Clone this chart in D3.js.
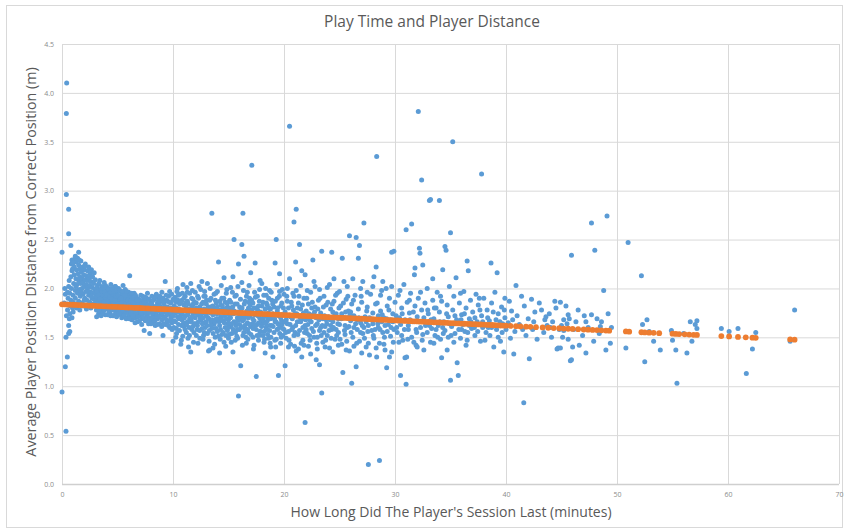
<!DOCTYPE html>
<html>
<head>
<meta charset="utf-8">
<script src="https://cdn.jsdelivr.net/npm/d3@7"></script>
<style>
  body { margin: 0; background: #fff; }
  svg { display: block; font-family: "Open Sans", "Noto Sans", sans-serif; }
</style>
</head>
<body>
<div id="chart"></div>
<script>
const title = 'Play Time and Player Distance';
const xTitle = "How Long Did The Player's Session Last (minutes)";
const yTitle = 'Average Player Position Distance from Correct Position (m)';
const xTicks = [0, 10, 20, 30, 40, 50, 60, 70];
const yTicks = [0, 0.5, 1, 1.5, 2, 2.5, 3, 3.5, 4, 4.5];

// session length (min), avg distance (m) — first three minutes
const blueSpike = [
  [0.0,2.37],[0.0,0.94],[0.36,0.54],[0.3,1.20],[0.48,1.30],[0.36,1.50],[0.6,1.54],[0.7,1.56],[0.42,4.10],[0.39,3.79],
  [0.39,2.96],[0.6,2.81],[0.6,2.56],[0.8,2.44],[0.66,1.69],[0.25,2.00],[0.3,1.94],[0.2,1.85],[0.9,1.70],[0.6,1.62],
  [0.4,1.72],[0.5,1.78],[0.45,1.84],[0.55,1.90],[0.5,1.96],[0.6,2.02],[0.65,2.08],[0.7,1.74],[0.75,1.82],[0.8,1.88],
  [0.7,1.95],[0.85,2.00],[0.8,2.12],[0.9,2.18],[0.85,2.25],[0.9,2.29],[0.95,1.80],[1.0,1.86],[1.0,1.93],[1.05,2.05],
  [1.1,2.14],[1.1,2.22],[1.15,2.30],[1.2,1.98],[1.2,1.90],[1.25,2.10],[1.3,2.19],[1.3,2.27],[1.35,2.04],[1.4,1.95],
  [1.4,2.31],[1.45,2.15],[1.5,2.24],[1.5,2.08],[1.55,1.99],[1.6,2.20],[1.6,2.12],[1.65,1.92],[1.7,2.05],[1.7,2.28],
  [1.75,2.17],[1.8,2.00],[1.8,2.10],[1.85,2.22],[1.9,1.94],[1.9,2.06],[1.95,2.14],[2.0,2.02],[2.0,2.19],[2.05,1.90],
  [2.1,2.09],[2.1,2.25],[2.15,1.97],[2.2,2.13],[2.2,2.04],[2.25,1.88],[2.3,2.18],[2.3,2.00],[2.35,2.08],[2.4,1.93],
  [2.4,2.22],[2.45,2.11],[2.5,2.03],[2.5,1.86],[2.55,2.15],[2.6,1.96],[2.6,2.07],[2.65,2.19],[2.7,1.90],[2.7,2.01],
  [2.75,2.12],[2.8,1.84],[2.8,1.95],[2.85,2.05],[2.9,2.16],[2.9,1.89],[2.95,1.99],[3.0,2.09],[3.0,1.82],[1.0,1.76],
  [1.3,1.80],[1.6,1.78],[1.9,1.82],[2.2,1.79],[2.6,1.80],[1.2,1.84],[1.5,1.87],[1.8,1.85],[2.4,1.83],[2.0,1.88],
  [1.0,2.26],[1.2,2.33],[1.5,2.37],[0.95,2.20],[1.25,2.02],[1.55,2.29],[1.75,1.96],[2.05,2.23],[2.35,1.97],[2.65,1.92]
];

// 3 to 10 minutes
const blueEarly = [
  [3.1,1.95],[3.1,1.78],[3.2,2.03],[3.2,1.87],[3.3,1.74],[3.3,1.99],[3.4,1.91],[3.4,2.08],[3.5,1.83],[3.5,1.96],
  [3.6,1.76],[3.6,2.02],[3.7,1.89],[3.7,1.80],[3.8,1.94],[3.8,2.06],[3.9,1.85],[3.9,1.73],[4.0,1.98],[4.0,1.88],
  [4.1,1.79],[4.1,2.01],[4.2,1.92],[4.2,1.84],[4.3,1.75],[4.3,1.97],[4.4,2.04],[4.4,1.87],[4.5,1.81],[4.5,1.93],
  [4.6,1.72],[4.6,1.99],[4.7,1.86],[4.7,1.78],[4.8,2.02],[4.8,1.90],[4.9,1.83],[4.9,1.95],[5.0,1.76],[5.0,1.88],
  [5.1,2.00],[5.1,1.80],[5.2,1.92],[5.2,1.85],[5.3,1.73],[5.3,1.97],[5.4,1.89],[5.4,1.79],[5.5,2.03],[5.5,1.84],
  [5.6,1.94],[5.6,1.75],[5.7,1.87],[5.7,1.99],[5.8,1.81],[5.8,1.91],[5.9,1.70],[5.9,1.86],[6.0,1.96],[6.0,1.78],
  [3.15,1.90],[3.45,1.85],[3.75,1.98],[4.05,1.82],[4.35,1.90],[4.65,1.94],[4.95,1.79],[5.25,1.88],[5.55,1.91],[5.85,1.83],
  [3.35,1.81],[3.65,1.93],[3.95,1.90],[4.25,1.77],[4.55,1.86],[4.85,1.74],[5.15,1.84],[5.45,1.95],[5.75,1.77],[6.05,1.89],
  [4.8,2.02],[3.05,2.00],[3.55,1.88],[4.15,1.95],[4.75,1.82],[5.35,1.82],[5.95,1.92],
  [6.1,2.13],[6.1,1.72],[6.2,1.84],[6.2,1.93],[6.3,1.77],[6.3,1.68],[6.4,1.88],[6.4,1.81],[6.5,1.95],[6.5,1.74],
  [6.6,1.86],[6.6,1.70],[6.7,1.79],[6.7,1.91],[6.8,1.83],[6.8,1.66],[6.9,1.76],[6.9,1.89],[7.0,1.81],[7.0,1.72],
  [7.1,1.93],[7.1,1.85],[7.2,1.69],[7.2,1.78],[7.3,1.88],[7.3,1.74],[7.4,1.57],[7.4,1.82],[7.5,1.91],[7.5,1.67],
  [7.6,1.79],[7.6,1.86],[7.7,1.73],[7.7,1.95],[7.8,1.81],[7.8,1.64],[7.9,1.54],[7.9,1.76],[8.0,1.87],[8.0,1.70],
  [8.1,1.83],[8.1,1.92],[8.2,1.66],[8.2,1.77],[8.3,1.89],[8.3,1.72],[8.4,1.80],[8.4,1.62],[8.5,1.94],[8.5,1.75],
  [8.6,1.85],[8.6,1.69],[8.7,1.78],[8.7,1.90],[8.8,1.64],[8.8,1.82],[8.9,1.73],[8.9,1.87],[9.0,1.68],[9.0,1.96],
  [9.1,1.52],[9.1,1.79],[9.2,1.84],[9.2,1.71],[9.3,2.07],[9.3,1.63],[9.4,1.77],[9.4,1.88],[9.5,1.66],[9.5,1.81],
  [9.6,1.74],[9.6,1.92],[9.7,1.97],[9.7,1.60],[9.8,1.85],[9.8,1.70],[9.9,1.78],[9.9,1.65],[10.0,1.46],[10.0,1.89],
  [6.15,1.80],[6.45,1.76],[6.75,1.85],[7.05,1.78],[7.35,1.80],[7.65,1.71],[7.95,1.83],[8.25,1.80],[8.55,1.72],[8.85,1.77],
  [9.15,1.86],[9.45,1.73],[9.75,1.80],[6.35,1.90],[6.95,1.84],[7.55,1.75],[8.15,1.74],[8.75,1.84],[9.35,1.76],[9.95,1.72]
];

// more sessions of 3 to 10 minutes
const blueEarly2 = [
  [3.02,1.86],[3.08,1.92],[3.12,1.71],[3.18,1.97],[3.22,1.80],[3.28,1.93],[3.32,2.05],[3.38,1.77],[3.42,1.89],[3.48,1.99],
  [3.52,1.72],[3.58,1.84],[3.62,1.97],[3.68,1.75],[3.72,2.00],[3.78,1.86],[3.82,1.78],[3.88,1.96],[3.92,2.03],[3.98,1.80],
  [4.02,1.93],[4.08,1.73],[4.12,1.87],[4.18,1.99],[4.22,1.80],[4.28,1.91],[4.32,1.83],[4.38,1.72],[4.42,1.96],[4.48,1.89],
  [4.52,2.00],[4.58,1.78],[4.62,1.84],[4.68,1.97],[4.72,1.73],[4.78,1.88],[4.82,1.80],[4.88,1.92],[4.92,1.71],[4.98,1.98],
  [5.02,1.84],[5.08,1.93],[5.12,1.74],[5.18,1.81],[5.22,1.98],[5.28,1.77],[5.32,1.90],[5.38,1.70],[5.42,1.85],[5.48,1.78],
  [5.52,1.97],[5.58,1.82],[5.62,1.72],[5.68,1.93],[5.72,1.84],[5.78,1.69],[5.82,1.97],[5.88,1.79],[5.92,1.88],[5.98,1.74],
  [6.02,1.84],[6.08,1.69],[6.18,1.87],[6.22,1.75],[6.28,1.95],[6.38,1.72],[6.42,1.85],[6.52,1.80],[6.58,1.65],[6.62,1.93],
  [6.72,1.74],[6.78,1.88],[6.82,1.71],[6.88,1.80],[6.98,1.67],[7.02,1.88],[7.12,1.75],[7.18,1.63],[7.22,1.84],[7.28,1.92],
  [7.38,1.70],[7.42,1.86],[7.48,1.77],[7.58,1.68],[7.62,1.90],[7.72,1.83],[7.78,1.76],[7.82,1.89],[7.88,1.68],[7.98,1.79],
  [8.02,1.64],[8.08,1.85],[8.18,1.70],[8.22,1.88],[8.28,1.78],[8.38,1.67],[8.42,1.91],[8.48,1.82],[8.58,1.78],[8.62,1.63],
  [8.68,1.87],[8.78,1.71],[8.82,1.92],[8.92,1.80],[8.98,1.61],[9.02,1.75],[9.08,1.90],[9.18,1.64],[9.22,1.80],[9.28,1.70],
  [9.38,1.93],[9.42,1.68],[9.52,1.87],[9.58,1.62],[9.62,1.78],[9.68,1.86],[9.78,1.67],[9.82,1.75],[9.88,1.94],[9.92,1.58]
];

// 10 to 20 minutes
const blueMid = [
  [10.1,1.82],[10.1,1.67],[10.2,1.75],[10.2,1.91],[10.3,1.59],[10.3,1.86],[10.4,2.00],[10.4,1.71],[10.5,1.79],[10.5,1.63],
  [10.6,1.94],[10.6,1.84],[10.7,1.43],[10.7,1.73],[10.8,1.68],[10.8,1.88],[10.9,2.04],[10.9,1.77],[11.0,1.61],[11.0,1.83],
  [11.1,1.72],[11.1,1.92],[11.2,1.55],[11.2,1.80],[11.3,1.66],[11.3,1.87],[11.4,1.40],[11.4,1.76],[11.5,1.95],[11.5,1.69],
  [11.6,2.05],[11.6,1.35],[11.7,1.82],[11.7,1.58],[11.8,1.74],[11.8,1.89],[11.9,1.64],[11.9,1.79],[12.0,1.96],[12.0,1.70],
  [12.1,1.52],[12.1,1.85],[12.2,1.77],[12.2,1.62],[12.3,1.90],[12.3,1.73],[12.4,1.57],[12.4,1.81],[12.5,1.68],[12.5,1.99],
  [12.6,2.07],[12.6,1.75],[12.7,1.48],[12.7,1.86],[12.8,1.65],[12.8,1.79],[12.9,1.92],[12.9,1.60],[13.0,1.72],[13.0,1.84],
  [13.1,2.05],[13.1,1.54],[13.2,1.36],[13.2,1.76],[13.3,1.37],[13.3,1.88],[13.4,1.66],[13.4,1.81],[13.5,2.77],[13.5,1.59],
  [13.6,1.39],[13.6,1.73],[13.7,1.94],[13.7,1.63],[13.8,1.78],[13.8,1.50],[13.9,1.85],[13.9,1.69],[14.0,1.56],[14.0,1.97],
  [14.1,2.27],[14.1,1.75],[14.2,1.34],[14.2,1.62],[14.3,1.83],[14.3,1.71],[14.4,1.53],[14.4,1.90],[14.5,1.67],[14.5,1.79],
  [14.6,2.11],[14.6,1.45],[14.7,1.86],[14.7,1.60],[14.8,1.74],[14.8,1.95],[14.9,1.57],[14.9,1.81],[15.0,1.68],[15.0,1.49],
  [15.1,1.88],[15.1,1.72],[15.2,1.61],[15.2,2.01],[15.3,1.78],[15.3,1.54],[15.4,1.35],[15.4,2.12],[15.5,2.50],[15.5,1.66],
  [15.6,1.84],[15.6,1.47],[15.7,1.75],[15.7,1.93],[15.8,1.58],[15.8,1.70],[15.9,2.25],[15.9,0.90],[16.0,1.81],[16.0,1.63],
  [16.1,1.21],[16.1,1.77],[16.2,2.45],[16.2,2.06],[16.3,2.77],[16.3,1.52],[16.4,2.33],[16.4,1.69],[16.5,1.87],[16.5,1.59],
  [16.6,1.74],[16.6,1.44],[16.7,1.96],[16.7,1.65],[16.8,1.80],[16.8,1.55],[16.9,1.72],[16.9,1.90],[17.0,2.16],[17.0,1.61],
  [17.1,3.26],[17.1,1.78],[17.2,1.50],[17.2,1.85],[17.3,1.67],[17.3,1.42],[17.4,2.26],[17.4,1.73],[17.5,1.10],[17.5,1.58],
  [17.6,1.92],[17.6,1.63],[17.7,1.82],[17.7,1.47],[17.8,1.70],[17.8,1.99],[17.9,1.56],[17.9,1.76],[18.0,2.05],[18.0,1.64],
  [18.1,1.52],[18.1,1.86],[18.2,1.71],[18.2,1.45],[18.3,1.34],[18.3,1.79],[18.4,1.93],[18.4,1.60],[18.5,1.67],[18.5,1.83],
  [18.6,1.49],[18.6,1.75],[18.7,1.57],[18.7,1.98],[18.8,1.69],[18.8,1.40],[18.9,1.88],[18.9,1.62],[19.0,1.30],[19.0,1.74],
  [19.1,1.55],[19.1,1.81],[19.2,2.26],[19.2,1.66],[19.3,2.50],[19.3,1.48],[19.4,1.77],[19.4,1.90],[19.5,1.11],[19.5,1.59],
  [19.6,2.15],[19.6,1.97],[19.7,1.70],[19.7,1.44],[19.8,1.85],[19.8,1.63],[19.9,1.52],[19.9,1.73],[20.0,1.94],[20.0,1.58],
  [10.15,1.78],[10.65,1.70],[11.15,1.85],[11.65,1.67],[12.15,1.74],[12.65,1.64],[13.15,1.70],[13.65,1.80],[14.15,1.66],[14.65,1.72],
  [15.15,1.80],[15.65,1.62],[16.15,1.70],[16.65,1.77],[17.15,1.64],[17.65,1.72],[18.15,1.66],[18.65,1.80],[19.15,1.69],[19.65,1.61],
  [10.45,1.88],[10.95,1.65],[11.45,1.60],[11.95,1.86],[12.45,1.70],[12.95,1.78],[13.45,1.62],[13.95,1.74],[14.45,1.82],[14.95,1.64],
  [15.45,1.74],[15.95,1.68],[16.45,1.62],[16.95,1.83],[17.45,1.80],[17.95,1.68],[18.45,1.58],[18.95,1.70],[19.45,1.64],[19.95,1.80]
];

// more sessions of 10 to 20 minutes
const blueMid2 = [
  [10.02,1.72],[10.08,1.60],[10.12,1.88],[10.22,1.66],[10.28,1.80],[10.32,1.54],[10.38,1.76],[10.48,1.93],[10.52,1.69],[10.58,1.57],
  [10.62,1.78],[10.72,1.86],[10.78,1.62],[10.82,1.75],[10.88,1.51],[10.98,1.90],[11.02,1.70],[11.08,1.58],[11.18,1.77],[11.22,1.63],
  [11.28,1.96],[11.32,1.73],[11.38,1.84],[11.48,1.52],[11.52,1.79],[11.58,1.66],[11.68,1.90],[11.72,1.71],[11.78,1.61],[11.82,1.84],
  [11.88,1.55],[11.98,1.76],[12.02,1.64],[12.08,1.80],[12.18,1.58],[12.22,1.92],[12.28,1.66],[12.38,1.78],[12.42,1.49],[12.52,1.73],
  [12.58,1.84],[12.62,1.59],[12.72,1.70],[12.78,1.92],[12.82,1.55],[12.88,1.75],[12.98,1.66],[13.02,1.88],[13.08,1.62],[13.18,1.81],
  [13.22,1.69],[13.28,1.57],[13.38,1.75],[13.42,1.90],[13.52,1.68],[13.58,1.82],[13.62,1.54],[13.72,1.77],[13.78,1.66],[13.82,1.88],
  [13.88,1.59],[13.98,1.81],[14.02,1.69],[14.08,1.51],[14.18,1.78],[14.22,1.87],[14.28,1.58],[14.38,1.68],[14.42,1.76],[14.52,1.55],
  [14.58,1.90],[14.62,1.65],[14.72,1.79],[14.78,1.52],[14.82,1.69],[14.88,1.85],[14.98,1.60],[15.02,1.77],[15.08,1.53],[15.18,1.70],
  [15.22,1.86],[15.28,1.64],[15.38,1.81],[15.42,1.58],[15.52,1.77],[15.58,1.92],[15.62,1.55],[15.72,1.66],[15.78,1.84],[15.82,1.49],
  [15.88,1.76],[15.98,1.58],[16.02,1.72],[16.08,1.89],[16.18,1.60],[16.22,1.80],[16.28,1.67],[16.38,1.55],[16.42,1.84],[16.52,1.72],
  [16.58,1.50],[16.62,1.92],[16.72,1.58],[16.78,1.70],[16.82,1.86],[16.88,1.63],[16.98,1.77],[17.02,1.53],[17.08,1.88],[17.18,1.69],
  [17.22,1.59],[17.28,1.80],[17.38,1.62],[17.42,1.91],[17.52,1.74],[17.58,1.52],[17.62,1.78],[17.72,1.65],[17.78,1.87],[17.82,1.56],
  [17.88,1.74],[17.98,1.61],[18.02,1.82],[18.08,1.68],[18.18,1.93],[18.22,1.56],[18.28,1.74],[18.38,1.64],[18.42,1.85],[18.52,1.53],
  [18.58,1.70],[18.62,1.90],[18.72,1.62],[18.78,1.79],[18.82,1.50],[18.88,1.73],[18.98,1.84],[19.02,1.61],[19.08,1.70],[19.18,1.47],
  [19.22,1.87],[19.28,1.66],[19.38,1.58],[19.42,1.80],[19.52,1.72],[19.58,1.92],[19.62,1.54],[19.72,1.82],[19.78,1.67],[19.88,1.59]
];

// 20 to 40 minutes
const blueLate = [
  [20.1,1.21],[20.1,1.76],[20.2,1.49],[20.3,1.87],[20.3,1.64],[20.4,1.56],[20.5,3.66],[20.5,2.10],[20.6,1.71],[20.6,1.43],
  [20.7,1.82],[20.8,1.60],[20.8,1.95],[20.9,2.68],[20.9,1.52],[21.0,1.74],[21.05,2.27],[21.1,2.81],[21.1,1.98],[21.2,1.66],
  [21.3,1.38],[21.3,1.85],[21.4,2.45],[21.4,1.57],[21.5,1.79],[21.6,2.18],[21.6,1.30],[21.7,1.69],[21.7,1.47],[21.8,1.90],
  [21.9,2.14],[21.9,0.63],[21.9,1.62],[22.0,1.77],[22.1,1.54],[22.2,1.84],[22.2,1.41],[22.3,1.68],[22.4,1.96],[22.5,1.59],
  [22.6,2.29],[22.6,1.73],[22.7,1.50],[22.8,2.02],[22.8,1.81],[22.9,1.27],[23.0,1.64],[23.1,1.88],[23.2,1.22],[23.2,1.57],
  [23.3,1.75],[23.4,2.38],[23.4,0.93],[23.5,1.45],[23.5,1.69],[23.6,1.92],[23.7,1.61],[23.8,1.83],[23.9,1.52],[24.0,1.71],
  [24.1,2.04],[24.1,1.39],[24.2,1.79],[24.3,2.37],[24.3,1.58],[24.4,1.66],[24.5,1.87],[24.6,1.48],[24.7,1.74],[24.8,1.95],
  [24.9,1.55],[25.0,1.63],[25.1,1.82],[25.2,1.43],[25.25,2.31],[25.3,1.14],[25.4,2.07],[25.4,1.70],[25.5,1.53],[25.6,1.89],
  [25.7,1.60],[25.8,1.77],[25.9,2.54],[25.9,1.36],[26.0,1.67],[26.1,1.03],[26.1,1.84],[26.2,1.50],[26.3,1.72],[26.4,1.93],
  [26.5,2.52],[26.5,1.20],[26.6,1.58],[26.7,2.31],[26.7,1.79],[26.8,2.44],[26.8,1.46],[26.9,1.65],[27.0,1.86],[27.1,2.07],
  [27.1,1.54],[27.2,2.67],[27.3,1.71],[27.4,1.40],[27.5,1.81],[27.6,0.20],[27.6,1.62],[27.7,1.32],[27.8,1.94],[27.9,1.57],
  [28.0,1.75],[28.1,2.12],[28.1,1.49],[28.2,1.68],[28.3,2.22],[28.35,3.35],[28.35,1.30],[28.4,1.85],[28.5,1.60],[28.6,0.24],
  [28.6,1.44],[28.7,1.77],[28.8,1.98],[28.9,2.07],[28.9,1.55],[29.0,1.70],[29.1,1.37],[29.25,1.19],[29.3,1.82],[29.4,1.63],
  [29.5,1.30],[29.5,1.90],[29.6,1.51],[29.7,2.37],[29.7,2.02],[29.8,1.74],[29.9,2.38],[29.9,1.58],[30.0,1.86],
  [20.2,1.68],[20.7,1.58],[21.2,1.80],[21.7,1.60],[22.3,1.52],[22.9,1.70],[23.3,1.60],[23.8,1.68],[24.4,1.76],[24.9,1.69],
  [25.5,1.62],[26.0,1.76],[26.6,1.68],[27.2,1.60],[27.7,1.70],[28.2,1.58],[28.8,1.66],[29.3,1.56],[29.8,1.66],[20.4,1.80],
  [21.0,1.55],[21.5,1.66],[22.0,1.58],[22.5,1.80],[23.0,1.50],[23.6,1.55],[24.2,1.62],[24.7,1.58],[25.2,1.74],[25.7,1.70],
  [26.3,1.60],[26.9,1.55],[27.4,1.66],[28.0,1.64],[28.5,1.72],[29.1,1.62],[29.6,1.68],
  [30.1,1.72],[30.2,1.55],[30.3,1.93],[30.45,1.98],[30.5,1.11],[30.5,1.63],[30.6,1.80],[30.7,1.47],[30.8,2.04],[30.9,1.29],
  [30.9,1.68],[31.0,2.60],[31.0,1.02],[31.05,1.30],[31.1,1.86],[31.2,1.58],[31.3,1.75],[31.4,1.95],[31.5,2.66],[31.5,1.50],
  [31.6,1.66],[31.75,2.14],[31.8,2.21],[31.8,1.82],[31.9,1.42],[32.0,1.40],[32.0,1.71],[32.1,3.81],[32.1,1.90],[32.2,2.41],
  [32.25,2.36],[32.3,1.60],[32.4,3.11],[32.4,1.78],[32.5,2.24],[32.5,1.53],[32.6,1.37],[32.7,1.85],[32.8,1.65],[32.9,2.00],
  [33.0,1.74],[33.1,2.90],[33.2,2.91],[33.2,1.45],[33.3,1.59],[33.4,2.10],[33.4,1.88],[33.5,1.69],[33.6,1.52],[33.7,1.80],
  [33.8,1.96],[33.9,1.62],[34.0,2.90],[34.0,1.76],[34.1,1.48],[34.2,1.29],[34.2,1.87],[34.3,2.19],[34.4,1.66],[34.5,2.43],
  [34.5,1.57],[34.6,2.39],[34.7,1.37],[34.7,1.83],[34.8,1.71],[34.9,2.02],[35.0,2.57],[35.0,1.06],[35.1,1.61],[35.2,3.50],
  [35.2,1.78],[35.3,1.92],[35.4,1.54],[35.5,2.11],[35.55,1.68],[35.6,1.24],[35.7,1.11],[35.8,1.85],[35.9,1.49],[36.0,1.73],
  [36.1,1.63],[36.2,1.97],[36.3,1.56],[36.4,1.80],[36.5,2.28],[36.5,1.47],[36.6,2.18],[36.7,1.69],[36.8,1.88],[36.9,1.59],
  [37.0,1.76],[37.2,1.52],[37.3,1.94],[37.4,1.66],[37.5,1.83],[37.7,1.46],[37.8,3.17],[37.8,1.72],[37.9,1.60],[38.0,1.90],
  [38.2,1.55],[38.3,1.78],[38.5,1.67],[38.65,2.26],[38.7,1.85],[38.9,1.40],[39.0,1.96],[39.0,1.62],[39.2,2.16],[39.3,1.74],
  [39.5,1.46],[39.6,1.81],[39.8,1.35],[39.9,1.90],[39.9,1.70],[40.0,1.58],
  [30.4,1.70],[31.2,1.62],[31.9,1.58],[32.6,1.70],[33.1,1.62],[33.7,1.58],[34.3,1.60],[34.9,1.64],[35.4,1.72],[36.0,1.58],
  [36.7,1.62],[37.2,1.70],[37.9,1.66],[38.4,1.60],[39.1,1.68],[39.7,1.64]
];

// more sessions of 20 to 40 minutes
const blueLate2 = [
  [20.05,1.66],[20.15,1.55],[20.25,1.92],[20.35,1.72],[20.45,1.47],[20.55,1.63],[20.65,1.86],[20.75,1.69],[20.85,1.78],[20.95,1.41],
  [21.05,1.62],[21.15,1.74],[21.25,1.53],[21.35,1.92],[21.45,1.70],[21.55,1.44],[21.65,1.83],[21.75,1.75],[21.85,1.55],[21.95,1.68],
  [22.05,1.90],[22.15,1.63],[22.25,1.74],[22.35,1.47],[22.45,1.66],[22.55,1.86],[22.65,1.56],[22.75,1.76],[22.85,1.62],[22.95,1.44],
  [23.05,1.79],[23.15,1.68],[23.25,1.90],[23.35,1.52],[23.45,1.62],[23.55,1.81],[23.65,1.72],[23.75,1.47],[23.85,1.64],[23.95,1.86],
  [24.05,1.57],[24.15,1.68],[24.25,1.49],[24.35,1.84],[24.45,1.60],[24.55,1.72],[24.65,1.93],[24.75,1.52],[24.85,1.64],[24.95,1.80],
  [25.05,1.48],[25.15,1.69],[25.35,1.85],[25.45,1.57],[25.55,1.76],[25.65,1.46],[25.75,1.92],[25.85,1.61],[25.95,1.73],[26.05,1.55],
  [26.25,1.88],[26.45,1.64],[26.55,1.44],[26.75,1.70],[26.95,1.92],[27.05,1.62],[27.25,1.49],[27.45,1.77],[27.55,1.56],[27.85,1.68],
  [28.05,1.52],[28.25,1.84],[28.45,1.64],[28.65,1.58],[28.85,1.73],[29.05,1.50],[29.25,1.69],[29.45,1.78],[29.65,1.60],[29.85,1.45],
  [30.15,1.60],[30.35,1.45],[30.65,1.74],[30.85,1.58],[31.15,1.48],[31.35,1.68],[31.65,1.76],[31.95,1.55],[32.15,1.66],[32.45,1.47],
  [32.75,1.62],[32.95,1.78],[33.25,1.68],[33.55,1.80],[33.85,1.50],[34.05,1.66],[34.35,1.54],[34.65,1.74],[35.05,1.52],[35.35,1.64],
  [35.75,1.58],[35.95,1.68],[36.25,1.74],[36.55,1.55],[36.85,1.66],[37.15,1.60],[37.45,1.56],[37.65,1.78],[38.05,1.62],[38.35,1.70],
  [38.55,1.52],[38.85,1.76],[39.15,1.58],[39.45,1.66],[39.65,1.55],[39.85,1.78]
];

// upper and lower edge of the band, 10 to 45 minutes
const blueEdges = [
  [10.35,1.97],[10.85,1.95],[11.25,2.01],[11.75,1.98],[12.35,2.02],[12.85,1.97],[13.35,2.00],[13.85,1.95],[14.35,2.03],[14.85,1.99],
  [15.35,1.96],[15.85,2.02],[16.35,1.98],[16.85,2.03],[17.35,1.96],[17.85,2.08],[18.35,2.00],[18.85,1.96],[19.35,2.04],[19.85,1.99],
  [10.25,1.50],[10.75,1.47],[11.35,1.49],[11.85,1.45],[12.25,1.44],[12.75,1.52],[13.25,1.46],[13.75,1.43],[14.25,1.48],[14.75,1.41],
  [15.25,1.45],[15.75,1.51],[16.25,1.42],[16.75,1.48],[17.25,1.38],[17.75,1.52],[18.25,1.48],[18.75,1.44],[19.25,1.40],[19.75,1.50],
  [20.3,2.00],[20.9,1.92],[21.5,2.03],[22.1,1.98],[22.7,2.07],[23.2,1.99],[23.9,2.01],[24.5,2.10],[25.0,1.97],[25.7,2.02],
  [26.2,2.10],[26.9,2.00],[27.5,1.96],[28.0,2.02],[28.7,1.93],[29.2,2.00],
  [20.4,1.40],[21.1,1.36],[21.8,1.42],[22.4,1.33],[23.0,1.38],[23.7,1.40],[24.4,1.35],[24.9,1.42],[25.6,1.37],[26.3,1.41],
  [27.0,1.34],[27.6,1.44],[28.3,1.39],[29.0,1.43],[29.7,1.35],
  [30.6,1.52],[31.3,1.88],[31.7,1.45],[32.3,1.96],[32.9,1.55],[33.5,1.44],[34.1,1.92],[34.8,1.50],[35.3,1.45],[35.9,1.95],
  [36.4,1.42],[37.0,1.62],[37.6,1.90],[38.1,1.47],[38.7,1.60],[39.3,1.50],[40.6,1.68],[41.5,1.58],[42.5,1.66],[43.6,1.71],
  [44.0,1.60],[45.1,1.50],[45.5,1.64]
];

// 40 minutes and longer
const blueTail = [
  [40.3,1.87],[40.4,1.49],[40.7,1.33],[40.9,2.03],[41.0,1.72],[41.6,0.83],[41.65,1.82],[42.1,1.28],[42.3,1.89],[42.6,1.76],
  [43.2,1.78],[43.5,1.68],[44.4,1.87],[44.6,1.38],[44.7,1.39],[44.9,1.39],[44.9,1.86],[45.2,1.68],[45.2,1.57],[45.6,1.73],
  [45.6,1.48],[45.7,1.69],[45.8,1.26],[45.9,2.34],[45.9,1.27],[46.0,1.40],[46.3,1.66],[46.6,1.42],[47.05,1.72],[47.2,1.66],
  [47.2,1.34],[47.7,2.67],[47.7,1.73],[48.0,2.39],[48.2,1.69],[48.4,1.54],[48.5,1.61],[48.8,1.98],[49.0,1.37],[49.1,2.74],
  [49.2,1.74],[49.4,1.44],
  [40.2,1.65],[40.5,1.77],[40.8,1.56],[41.2,1.63],[41.4,1.92],[41.8,1.52],[42.0,1.69],[42.4,1.58],[42.8,1.48],[43.0,1.85],
  [43.4,1.55],[43.7,1.62],[43.9,1.74],[44.1,1.50],[44.2,1.66],[44.5,1.80],[44.8,1.58],[45.0,1.62],[45.4,1.82],[46.1,1.58],
  [46.5,1.78],[46.9,1.52],[47.4,1.60],[47.9,1.46],[48.6,1.66],[49.5,1.60],
  [50.8,1.39],[51.0,2.47],[52.2,2.13],[52.3,1.63],[52.5,1.25],[52.7,1.68],[52.9,1.56],[53.3,1.46],[53.9,1.37],[54.9,1.57],
  [55.0,1.47],[55.3,1.37],[55.4,1.03],[56.0,1.54],[56.3,1.34],[56.6,1.66],[56.75,1.46],[57.05,1.63],[57.2,1.67],[57.2,1.59],
  [59.4,1.59],[60.1,1.56],[60.9,1.59],[61.65,1.13],[62.2,1.38],[62.5,1.55],[65.6,1.46],[66.0,1.78]
];

// fitted values plotted as the second series
const trendPoints = [
  [0,1.838],[0.5,1.835],[1,1.833],[1.5,1.830],[2,1.827],[2.5,1.824],[3,1.822],[3.5,1.819],[4,1.816],[4.5,1.813],
  [5,1.811],[5.5,1.808],[6,1.805],[6.5,1.802],[7,1.800],[7.5,1.797],[8,1.794],[8.5,1.791],[9,1.789],[9.5,1.786],
  [10,1.783],[10.5,1.780],[11,1.778],[11.5,1.775],[12,1.772],[12.5,1.770],[13,1.767],[13.5,1.764],[14,1.761],[14.5,1.759],
  [15,1.756],[15.5,1.753],[16,1.750],[16.5,1.748],[17,1.745],[17.5,1.742],[18,1.739],[18.5,1.737],[19,1.734],[19.5,1.731],
  [20,1.728],[20.5,1.726],[21,1.723],[21.5,1.720],[22,1.717],[22.5,1.715],[23,1.712],[23.5,1.709],[24,1.706],[24.5,1.704],
  [25,1.701],[25.5,1.698],[26,1.695],[26.5,1.693],[27,1.690],[27.5,1.687],[28,1.685],[28.5,1.682],[29,1.679],[29.5,1.676],
  [30,1.674],[30.5,1.671],[31,1.668],[31.5,1.665],[32,1.663],[32.5,1.660],[33,1.657],[33.5,1.654],[34,1.652],[34.5,1.649],
  [35,1.646],[35.5,1.643],[36,1.641],[36.5,1.638],[37,1.635],[37.5,1.632],[38,1.630],[38.5,1.627],[39,1.624],[39.5,1.621],
  [40,1.619],[40.4,1.617],[40.9,1.614],[41.3,1.612],[41.8,1.609],[42.2,1.607],[42.7,1.604],[43.3,1.601],[43.8,1.598],[44.3,1.595],
  [44.8,1.593],[45.2,1.590],[45.6,1.588],[46.0,1.586],[46.5,1.583],[47.0,1.580],[47.4,1.578],[47.8,1.576],[48.2,1.574],[48.6,1.572],
  [49.0,1.569],[49.3,1.568],[50.8,1.560],[51.1,1.558],[52.2,1.552],[52.5,1.550],[52.9,1.548],[53.3,1.546],[53.8,1.543],[55.0,1.537],
  [55.3,1.535],[55.6,1.533],[56.1,1.531],[56.5,1.528],[56.9,1.526],[57.2,1.525],[59.4,1.513],[60.1,1.509],[60.9,1.504],[61.6,1.500],
  [62.2,1.497],[62.5,1.495],[65.6,1.479],[66.0,1.476],
  [0.25,1.837],[0.75,1.834],[1.25,1.831],[1.75,1.828],[2.25,1.826],[2.75,1.823],[3.25,1.820],[3.75,1.817],[4.25,1.815],[4.75,1.812],
  [5.25,1.809],[5.75,1.806],[6.25,1.804],[6.75,1.801],[7.25,1.798],[7.75,1.796],[8.25,1.793],[8.75,1.790],[9.25,1.787],[9.75,1.785],
  [10.25,1.782],[10.75,1.779],[11.25,1.776],[11.75,1.774],[12.25,1.771],[12.75,1.768],[13.25,1.765],[13.75,1.763],[14.25,1.760],[14.75,1.757],
  [15.25,1.754],[15.75,1.752],[16.25,1.749],[16.75,1.746],[17.25,1.743],[17.75,1.741],[18.25,1.738],[18.75,1.735],[19.25,1.733],[19.75,1.730],
  [20.25,1.727],[20.75,1.724],[21.25,1.722],[21.75,1.719],[22.25,1.716],[22.75,1.713],[23.25,1.711],[23.75,1.708],[24.25,1.705],[24.75,1.702],
  [25.25,1.700],[25.75,1.697],[26.25,1.694],[26.75,1.691],[27.25,1.689],[27.75,1.686],[28.25,1.683],[28.75,1.680],[29.25,1.678],[29.75,1.675],
  [30.25,1.672],[30.75,1.669],[31.25,1.667],[31.75,1.664],[32.25,1.661],[32.75,1.659],[33.25,1.656],[33.75,1.653],[34.25,1.650],[34.75,1.648],
  [35.25,1.645],[35.75,1.642],[36.25,1.639],[36.75,1.637],[37.25,1.634],[37.75,1.631],[38.25,1.628],[38.75,1.626],[39.25,1.623],[39.75,1.620]
];

const width = 844;
const height = 529;
const plot = { left: 62, right: 839, top: 44, bottom: 484 };

const svg = d3.select('#chart')
  .append('svg')
  .attr('width', width)
  .attr('height', height);

// chart area border
svg.append('rect')
  .attr('x', 6.5).attr('y', 5.5)
  .attr('width', 836).attr('height', 522)
  .attr('fill', '#fff')
  .attr('stroke', '#D9D9D9');

const x = d3.scaleLinear().domain([0, 70]).range([plot.left, plot.right]);
const y = d3.scaleLinear().domain([0, 4.5]).range([plot.bottom, plot.top]);

const xAxis = svg.append('g')
  .attr('transform', `translate(0,${plot.bottom})`)
  .call(d3.axisBottom(x)
    .tickValues(xTicks)
    .tickSize(-(plot.bottom - plot.top))
    .tickPadding(8)
    .tickFormat(d3.format('d')));

const yAxis = svg.append('g')
  .attr('transform', `translate(${plot.left},0)`)
  .call(d3.axisLeft(y)
    .tickValues(yTicks)
    .tickSize(-(plot.right - plot.left))
    .tickPadding(8)
    .tickFormat(d3.format('.1f')));

[xAxis, yAxis].forEach(ax => {
  ax.select('.domain').remove();
  ax.selectAll('.tick line').attr('stroke', '#D9D9D9').attr('stroke-width', 1);
  ax.selectAll('.tick text')
    .attr('fill', '#8C8C8C')
    .style('font-size', '7px')
    .style('font-family', '"Open Sans", sans-serif');
});
yAxis.selectAll('.tick line').filter(d => d === 0).attr('stroke', '#CFCFCF').attr('stroke-width', 1.3);

const blue = [].concat(blueSpike, blueEarly, blueEarly2, blueMid, blueMid2, blueLate, blueLate2, blueEdges, blueTail);

svg.append('g')
  .selectAll('circle')
  .data(blue)
  .enter().append('circle')
  .attr('cx', d => x(d[0]))
  .attr('cy', d => y(d[1]))
  .attr('r', 2.5)
  .attr('fill', '#5B9BD5');

svg.append('g')
  .selectAll('circle')
  .data(trendPoints)
  .enter().append('circle')
  .attr('cx', d => x(d[0]))
  .attr('cy', d => y(d[1]))
  .attr('r', 2.9)
  .attr('fill', '#ED7D31');

// titles
svg.append('text')
  .attr('x', 432).attr('y', 27)
  .attr('text-anchor', 'middle')
  .attr('fill', '#595959')
  .style('font-size', '15.5px')
  .text(title);

svg.append('text')
  .attr('x', 451).attr('y', 517)
  .attr('text-anchor', 'middle')
  .attr('fill', '#595959')
  .style('font-size', '14px')
  .text(xTitle);

svg.append('text')
  .attr('transform', `translate(36, ${(plot.top + plot.bottom) / 2 - 2}) rotate(-90)`)
  .attr('text-anchor', 'middle')
  .attr('fill', '#595959')
  .style('font-size', '14.3px')
  .text(yTitle);
</script>
</body>
</html>
